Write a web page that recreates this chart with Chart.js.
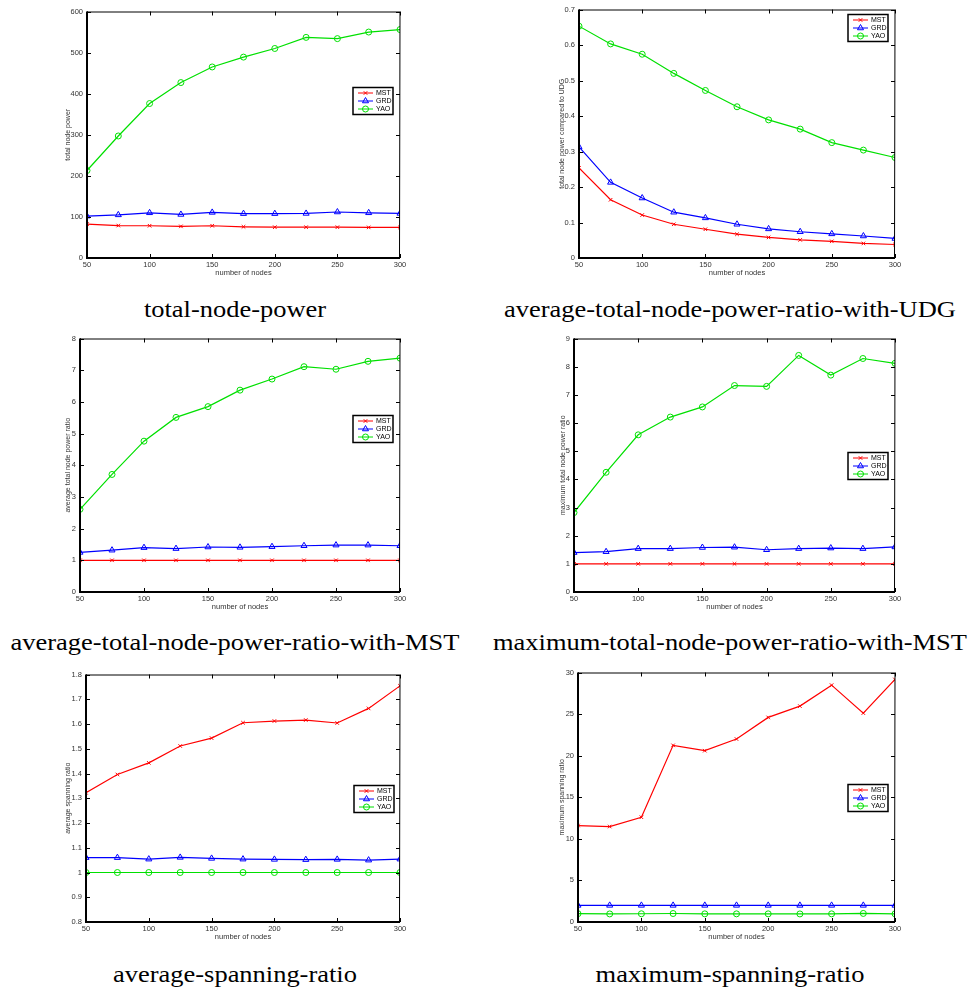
<!DOCTYPE html>
<html>
<head>
<meta charset="utf-8">
<script src="https://cdn.jsdelivr.net/npm/chart.js@4.4.0/dist/chart.umd.min.js"></script>
<style>
    body { margin: 0; background: #fff; }
    #hoja { position: relative; width: 971px; height: 991px; overflow: hidden; }
    .panel { position: absolute; }
    #p1 { left: 42px; top: 3px; width: 370px; height: 285px; }
    #p2 { left: 534px; top: 1px; width: 373px; height: 287px; }
    #p3 { left: 35px; top: 330px; width: 377px; height: 292px; }
    #p4 { left: 529px; top: 330px; width: 378px; height: 292px; }
    #p5 { left: 41px; top: 666px; width: 371px; height: 286px; }
    #p6 { left: 533px; top: 664px; width: 374px; height: 288px; }
    .pie { position: absolute; font-family: 'Liberation Serif', 'Times New Roman', serif; font-size: 23px;
           line-height: 24px; text-align: center; color: #000; white-space: nowrap;
           transform: scaleX(1.15); transform-origin: center; }
    .izq { left: 0; width: 470px; }
    .der { left: 480px; width: 500px; }
</style>
</head>
<body>
<div id="hoja">
    <div class="panel" id="p1"><canvas id="c1"></canvas></div>
    <div class="panel" id="p2"><canvas id="c2"></canvas></div>
    <div class="panel" id="p3"><canvas id="c3"></canvas></div>
    <div class="panel" id="p4"><canvas id="c4"></canvas></div>
    <div class="panel" id="p5"><canvas id="c5"></canvas></div>
    <div class="panel" id="p6"><canvas id="c6"></canvas></div>
    <div class="pie izq" style="top:298px">total-node-power</div>
    <div class="pie der" style="top:298px">average-total-node-power-ratio-with-UDG</div>
    <div class="pie izq" style="top:631px">average-total-node-power-ratio-with-MST</div>
    <div class="pie der" style="top:631px">maximum-total-node-power-ratio-with-MST</div>
    <div class="pie izq" style="top:963px">average-spanning-ratio</div>
    <div class="pie der" style="top:963px">maximum-spanning-ratio</div>
</div>
<script>
// numero de nodos (eje x)
var nodos = [50, 75, 100, 125, 150, 175, 200, 225, 250, 275, 300];
var series = ['MST', 'GRD', 'YAO'];

// total node power
var potenciaMST = [82.6, 79, 78.5, 77, 78.5, 76, 75, 75, 75, 74.5, 74.5];
var potenciaGRD = [102, 105, 110, 106, 111, 108, 108, 108.5, 112, 110, 108.5];
var potenciaYAO = [213, 297, 376, 427, 465, 489, 510, 537, 534, 550, 556];

// total node power compared to UDG
var udgMST = [0.254, 0.164, 0.121, 0.095, 0.081, 0.067, 0.058, 0.051, 0.047, 0.041, 0.038];
var udgGRD = [0.313, 0.213, 0.169, 0.129, 0.113, 0.095, 0.082, 0.074, 0.068, 0.062, 0.055];
var udgYAO = [0.653, 0.603, 0.574, 0.520, 0.472, 0.426, 0.389, 0.363, 0.325, 0.304, 0.283];

// average total node power ratio
var medioMST = [1, 1, 1, 1, 1, 1, 1, 1, 1, 1, 1];
var medioGRD = [1.25, 1.32, 1.40, 1.37, 1.42, 1.41, 1.43, 1.46, 1.48, 1.48, 1.46];
var medioYAO = [2.61, 3.71, 4.76, 5.51, 5.85, 6.37, 6.72, 7.11, 7.03, 7.28, 7.38];

// maximum total node power ratio
var maximoMST = [1, 1, 1, 1, 1, 1, 1, 1, 1, 1, 1];
var maximoGRD = [1.40, 1.43, 1.54, 1.54, 1.58, 1.59, 1.50, 1.54, 1.56, 1.54, 1.60];
var maximoYAO = [2.82, 4.25, 5.58, 6.21, 6.57, 7.33, 7.30, 8.40, 7.70, 8.29, 8.12];

// average spanning ratio
var spanMedioMST = [1.322, 1.396, 1.443, 1.511, 1.543, 1.605, 1.612, 1.616, 1.604, 1.663, 1.754];
var spanMedioGRD = [1.060, 1.060, 1.054, 1.061, 1.057, 1.054, 1.053, 1.052, 1.053, 1.050, 1.054];
var spanMedioYAO = [1, 1, 1, 1, 1, 1, 1, 1, 1, 1, 1];

// maximum spanning ratio
var spanMaxMST = [11.6, 11.48, 12.6, 21.24, 20.6, 22.0, 24.6, 25.96, 28.48, 25.12, 29.16];
var spanMaxGRD = [2, 2, 2, 2, 2, 2, 2, 2, 2, 2, 2];
var spanMaxYAO = [1.0, 0.97, 0.99, 1.02, 0.98, 0.98, 0.98, 0.97, 0.98, 1.03, 0.98];

var colores = ['#ff0000', '#0000ff', '#00e000'];
var marcas = ['crossRot', 'triangle', 'circle'];
var radios = [2.5, 3.5, 3];
var fuente = "'Liberation Sans', Arial, sans-serif";

// marco negro con ticks hacia dentro, estilo matlab
var pluginMarco = {
    id: 'marco',
    afterDraw: function (chart) {
        var a = chart.chartArea, ctx = chart.ctx;
        var sx = chart.scales.x, sy = chart.scales.y;
        ctx.save();
        ctx.strokeStyle = '#000';
        ctx.lineWidth = 1;
        ctx.beginPath();
        sx.ticks.forEach(function (t) {
            var px = Math.round(sx.getPixelForValue(t.value)) + 0.5;
            ctx.moveTo(px, a.bottom); ctx.lineTo(px, a.bottom - 4);
            ctx.moveTo(px, a.top); ctx.lineTo(px, a.top + 4);
        });
        sy.ticks.forEach(function (t) {
            var py = Math.round(sy.getPixelForValue(t.value)) + 0.5;
            ctx.moveTo(a.left, py); ctx.lineTo(a.left + 4, py);
            ctx.moveTo(a.right, py); ctx.lineTo(a.right - 4, py);
        });
        ctx.stroke();
        ctx.beginPath();
        ctx.moveTo(a.left, a.top + 0.5); ctx.lineTo(a.right, a.top + 0.5);
        ctx.lineTo(a.right - 0.5, a.bottom);
        ctx.stroke();
        ctx.lineWidth = 2;
        ctx.beginPath();
        ctx.moveTo(a.left, a.top); ctx.lineTo(a.left, a.bottom); ctx.lineTo(a.right, a.bottom);
        ctx.stroke();
        ctx.restore();
    }
};

// leyenda dentro del area del grafico
var pluginLeyenda = {
    id: 'leyendaDentro',
    afterDraw: function (chart, args, opts) {
        var a = chart.chartArea, ctx = chart.ctx;
        var w = 40, h = 27;
        var x0 = a.right - opts.derecha - w, y0 = a.top + opts.arriba;
        ctx.save();
        ctx.fillStyle = '#fff';
        ctx.fillRect(x0, y0, w, h);
        ctx.strokeStyle = '#000';
        ctx.lineWidth = 1.5;
        ctx.strokeRect(x0, y0, w, h);
        ctx.font = '7px ' + fuente;
        ctx.textBaseline = 'middle';
        series.forEach(function (nombre, i) {
            var y = y0 + 5.5 + i * 8;
            ctx.strokeStyle = colores[i];
            ctx.lineWidth = 1;
            ctx.beginPath();
            ctx.moveTo(x0 + 5, y); ctx.lineTo(x0 + 20, y);
            ctx.stroke();
            ctx.fillStyle = 'rgba(0,0,0,0)';
            Chart.helpers.drawPoint(ctx, { pointStyle: marcas[i], radius: radios[i], borderWidth: 1, rotation: 0 }, x0 + 12.5, y);
            ctx.fillStyle = '#000';
            ctx.fillText(nombre, x0 + 23, y + 0.5);
        });
        ctx.restore();
    }
};

function formatoTick(v) {
    return String(+Number(v).toFixed(2));
}

function crearGrafico(id, valores, yMin, yMax, yPaso, tituloY, hueco, leyenda) {
    var ctx = document.getElementById(id).getContext('2d');
    var datasets = series.map(function (nombre, i) {
        return {
            label: nombre,
            data: nodos.map(function (n, k) { return { x: n, y: valores[i][k] }; }),
            borderColor: colores[i],
            backgroundColor: 'rgba(0,0,0,0)',
            borderWidth: 1.2,
            pointStyle: marcas[i],
            pointRadius: radios[i],
            pointBorderWidth: 1,
            pointBorderColor: colores[i],
            pointBackgroundColor: 'rgba(0,0,0,0)',
            tension: 0,
            fill: false
        };
    });

    return new Chart(ctx, {
        type: 'line',
        data: { datasets: datasets },
        options: {
            responsive: true,
            maintainAspectRatio: false,
            animation: false,
            devicePixelRatio: 1,
            layout: { padding: { top: 8, right: 12, left: 0, bottom: 0 } },
            scales: {
                x: {
                    type: 'linear',
                    min: 50,
                    max: 300,
                    afterFit: function (s) { s.height = 30; },
                    ticks: { stepSize: 50, color: '#333', padding: 2, maxRotation: 0, autoSkip: false,
                             font: { family: fuente, size: 7.5 } },
                    grid: { display: false, drawTicks: false },
                    border: { display: false },
                    title: { display: true, text: 'number of nodes', color: '#333',
                             font: { family: fuente, size: 7.5 }, padding: { top: 0, bottom: 11 } }
                },
                y: {
                    min: yMin,
                    max: yMax,
                    afterFit: function (s) { s.width = 45; },
                    ticks: { stepSize: yPaso, color: '#333', padding: 4, callback: formatoTick,
                             font: { family: fuente, size: 7.5 } },
                    grid: { display: false, drawTicks: false },
                    border: { display: false },
                    title: { display: true, text: tituloY, color: '#333',
                             font: { family: fuente, size: 7 }, padding: { top: 45 - hueco - 4.2, bottom: 0 } }
                }
            },
            plugins: {
                legend: { display: false },
                tooltip: { enabled: false },
                leyendaDentro: leyenda
            }
        },
        plugins: [pluginMarco, pluginLeyenda]
    });
}

crearGrafico('c1', [potenciaMST, potenciaGRD, potenciaYAO], 0, 600, 100, 'total node power', 19, { derecha: 7, arriba: 76 });
crearGrafico('c2', [udgMST, udgGRD, udgYAO], 0, 0.7, 0.1, 'total node power compared to UDG', 17, { derecha: 7, arriba: 5 });
crearGrafico('c3', [medioMST, medioGRD, medioYAO], 0, 8, 1, 'average total node power ratio', 12, { derecha: 7, arriba: 77 });
crearGrafico('c4', [maximoMST, maximoGRD, maximoYAO], 0, 9, 1, 'maximum total node power ratio', 11, { derecha: 7, arriba: 114 });
crearGrafico('c5', [spanMedioMST, spanMedioGRD, spanMedioYAO], 0.8, 1.8, 0.1, 'average spanning ratio', 18, { derecha: 6, arriba: 111 });
crearGrafico('c6', [spanMaxMST, spanMaxGRD, spanMaxYAO], 0, 30, 5, 'maximum spanning ratio', 16, { derecha: 7, arriba: 112 });
</script>
</body>
</html>
